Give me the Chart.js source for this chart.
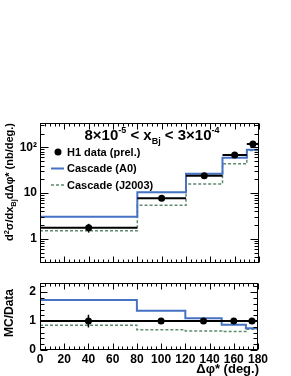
<!DOCTYPE html>
<html><head><meta charset="utf-8">
<script src="https://cdn.jsdelivr.net/npm/chart.js@4.4.0/dist/chart.umd.min.js"></script>
<style>
body{margin:0;background:#fff;width:291px;height:376px;position:relative;overflow:hidden}
#c1{position:absolute;left:0;top:0}
#c2{position:absolute;left:0;top:272px}
</style></head>
<body>
<canvas id="c1" width="291" height="273"></canvas>
<canvas id="c2" width="291" height="104"></canvas>
<script>
// ---- data ----
const binEdges = [0, 80, 120, 150, 170, 180];
const pointX = [40, 100, 135, 160, 175];
const h1Data = [1.75, 7.7, 24, 68, 118];
const h1Err = [0.38, 0.4, 1.2, 3.4, 6];
const cascadeA0 = [3.03, 10.5, 26.4, 59, 88.5];
const cascadeJ2003 = [1.5, 5.4, 15.8, 43.5, 85];
const ratioData = [1, 1, 1, 1, 1];
const ratioErr = [0.22, 0.05, 0.05, 0.05, 0.05];
const ratioA0 = [1.73, 1.36, 1.10, 0.87, 0.75];
const ratioJ2003 = [0.86, 0.70, 0.66, 0.64, 0.72];
const xTickValues = [0, 20, 40, 60, 80, 100, 120, 140, 160, 180];
const yTicksUpper = [1, 10, 100];
const yLabelsUpper = ['1', '10', '10²'];
const yTicksLower = [0, 1, 2];

const FONT = '"Liberation Sans", Arial, Helvetica, sans-serif';
const BLUE = '#4672c4';
const GREEN = '#5e8a6e';

function steps(vals) { return binEdges.map((e, i) => ({x: e, y: vals[Math.min(i, vals.length - 1)]})); }
function bars(vals) {
  const p = [];
  vals.forEach((v, i) => { p.push({x: binEdges[i], y: v}, {x: binEdges[i + 1], y: v}, {x: binEdges[i + 1], y: null}); });
  return p;
}
function pts(vals) { return vals.map((v, i) => ({x: pointX[i], y: v})); }

function rich(ctx, parts, x, y, align) {
  let w = 0;
  parts.forEach(p => { ctx.font = 'bold ' + p[1] + 'px ' + FONT; w += ctx.measureText(p[0]).width; });
  let cx = align === 'center' ? x - w / 2 : align === 'right' ? x - w : x;
  ctx.textAlign = 'left'; ctx.textBaseline = 'alphabetic'; ctx.fillStyle = '#000';
  parts.forEach(p => { ctx.font = 'bold ' + p[1] + 'px ' + FONT; ctx.fillText(p[0], cx, y + (p[2] || 0)); cx += ctx.measureText(p[0]).width; });
}

function line(ctx, x1, y1, x2, y2) { ctx.beginPath(); ctx.moveTo(x1, y1); ctx.lineTo(x2, y2); ctx.stroke(); }

function drawFrameTicks(chart, yMajor, yMinor, majLenY, minLenY) {
  const ctx = chart.ctx, a = chart.chartArea, xs = chart.scales.x, ys = chart.scales.y;
  ctx.save();
  ctx.strokeStyle = '#000'; ctx.lineWidth = 1;
  const L = Math.round(a.left) + 0.5, R = Math.round(a.right) - 0.5, T = Math.round(a.top) + 0.5, B = Math.round(a.bottom) - 0.5;
  ctx.strokeRect(L, T, R - L, B - T);
  for (let v = 0; v <= 180; v += 4) {
    const px = Math.round(xs.getPixelForValue(v)) + 0.5;
    const len = v % 20 === 0 ? 6 : 3;
    line(ctx, px, B, px, B - len);
    line(ctx, px, T, px, T + len);
  }
  yMajor.forEach(v => { const py = Math.round(ys.getPixelForValue(v)) + 0.5; line(ctx, L, py, L + majLenY, py); line(ctx, R, py, R - majLenY, py); });
  yMinor.forEach(v => { const py = Math.round(ys.getPixelForValue(v)) + 0.5; line(ctx, L, py, L + minLenY, py); line(ctx, R, py, R - minLenY, py); });
  ctx.restore();
}

function drawErrors(chart, vals, errs) {
  const ctx = chart.ctx, xs = chart.scales.x, ys = chart.scales.y;
  ctx.save(); ctx.strokeStyle = '#000'; ctx.lineWidth = 1.5;
  vals.forEach((v, i) => {
    const px = xs.getPixelForValue(pointX[i]);
    line(ctx, px, ys.getPixelForValue(v - errs[i]), px, ys.getPixelForValue(v + errs[i]));
  });
  ctx.restore();
}

const upperMinor = [];
[0.1, 1, 10, 100].forEach(d => { for (let m = 2; m <= 9; m++) { const v = d * m; if (v > 0.34 && v < 340) upperMinor.push(v); } });
const lowerMinor = [];
for (let k = 1; k <= 11; k++) { if (k % 5 !== 0) lowerMinor.push(k * 0.2); }

const upperPlugin = {
  id: 'upperDeco',
  afterDatasetsDraw(chart) {
    drawErrors(chart, h1Data, h1Err);
    drawFrameTicks(chart, yTicksUpper, upperMinor, 8, 4);
    const ctx = chart.ctx;
    // title
    rich(ctx, [['8×10', 15], ['-5', 9, -7], [' < x', 15], ['Bj', 9, 4], [' < 3×10', 15], ['-4', 9, -7]], 152, 140, 'center');
    // legend
    ctx.save();
    ctx.fillStyle = '#000'; ctx.beginPath(); ctx.arc(58, 152, 3.5, 0, Math.PI * 2); ctx.fill();
    ctx.strokeStyle = BLUE; ctx.lineWidth = 2; line(ctx, 51, 168.5, 64, 168.5);
    ctx.strokeStyle = GREEN; ctx.lineWidth = 1.5; ctx.setLineDash([3, 2]); line(ctx, 51, 185, 65, 185);
    ctx.restore();
    rich(ctx, [['H1 data (prel.)', 11]], 67, 156, 'left');
    rich(ctx, [['Cascade (A0)', 11]], 67, 172, 'left');
    rich(ctx, [['Cascade (J2003)', 11]], 67, 189, 'left');
    // y title
    ctx.save(); ctx.translate(13, 182); ctx.rotate(-Math.PI / 2);
    rich(ctx, [['d', 11], ['2', 7.5, -4.5], ['σ/dx', 11], ['Bj', 7.5, 3], ['dΔφ* (nb/deg.)', 11]], 0, 0, 'center');
    ctx.restore();
  }
};

const lowerPlugin = {
  id: 'lowerDeco',
  afterDatasetsDraw(chart) {
    drawErrors(chart, ratioData, ratioErr);
    drawFrameTicks(chart, yTicksLower, lowerMinor, 7, 4);
    const ctx = chart.ctx;
    ctx.save(); ctx.translate(12.5, 41); ctx.rotate(-Math.PI / 2);
    rich(ctx, [['MC/Data', 12]], 0, 0, 'center');
    ctx.restore();
    rich(ctx, [['Δφ* (deg.)', 13]], 259, 100.5, 'right');
  }
};

function baseDatasets(dataV, a0V, j2V) {
  return [
    {data: pts(dataV), showLine: false, pointRadius: 3.5, pointBackgroundColor: '#000', pointBorderWidth: 0, order: 0},
    {data: bars(dataV), borderColor: '#000', borderWidth: 2, pointRadius: 0, spanGaps: false, order: 1},
    {data: steps(a0V), stepped: true, borderColor: BLUE, borderWidth: 2, pointRadius: 0, order: 2},
    {data: steps(j2V), stepped: true, borderColor: GREEN, borderWidth: 1.5, borderDash: [3, 2], pointRadius: 0, order: 3}
  ];
}

const tickFont = {family: FONT, size: 12, weight: 'bold'};

new Chart(document.getElementById('c1'), {
  type: 'line',
  data: {datasets: baseDatasets(h1Data, cascadeA0, cascadeJ2003)},
  options: {
    responsive: false, animation: false, devicePixelRatio: 1,
    layout: {padding: {top: 123, right: 32, bottom: 3, left: 0}},
    plugins: {legend: {display: false}, tooltip: {enabled: false}},
    scales: {
      x: {type: 'linear', min: 0, max: 180, display: false},
      y: {
        type: 'logarithmic', min: 0.34, max: 340,
        afterBuildTicks: s => { s.ticks = yTicksUpper.map(v => ({value: v})); },
        afterFit: s => { s.width = 40; },
        ticks: {font: tickFont, color: '#000', padding: 3, callback: v => yLabelsUpper[yTicksUpper.indexOf(v)] ?? ''},
        grid: {display: false, drawTicks: false}, border: {display: false}
      }
    }
  },
  plugins: [upperPlugin]
});

new Chart(document.getElementById('c2'), {
  type: 'line',
  data: {datasets: baseDatasets(ratioData, ratioA0, ratioJ2003)},
  options: {
    responsive: false, animation: false, devicePixelRatio: 1,
    layout: {padding: {top: 4.5, right: 33, bottom: 0, left: 0}},
    plugins: {legend: {display: false}, tooltip: {enabled: false}},
    scales: {
      x: {
        type: 'linear', min: 0, max: 180,
        afterBuildTicks: s => { s.ticks = xTickValues.map(v => ({value: v})); },
        afterFit: s => { s.height = 26; },
        ticks: {font: tickFont, color: '#000', padding: 2, maxRotation: 0, autoSkip: false},
        grid: {display: false, drawTicks: false}, border: {display: false}
      },
      y: {
        type: 'linear', min: 0, max: 2.31,
        afterBuildTicks: s => { s.ticks = yTicksLower.map(v => ({value: v})); },
        afterFit: s => { s.width = 40; },
        ticks: {font: tickFont, color: '#000', padding: 4},
        grid: {display: false, drawTicks: false}, border: {display: false}
      }
    }
  },
  plugins: [lowerPlugin]
});
</script>
</body></html>
